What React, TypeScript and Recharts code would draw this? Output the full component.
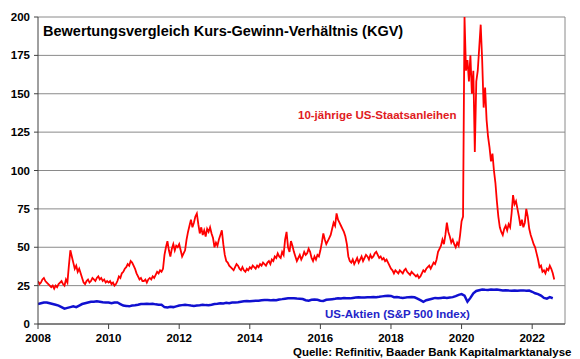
import { CartesianGrid, Line, LineChart, ReferenceLine, XAxis, YAxis } from "recharts";

// KGV 10-jährige US-Staatsanleihen, halbmonatlich ab Jan 2008
const bondKgv = [
  // 2008
  28, 26, 27, 29, 30, 28, 27, 26, 25, 24, 25, 23, 25, 24, 26, 27, 28, 26, 25, 29, 27, 38, 48, 44,
  // 2009
  40, 36, 38, 34, 36, 33, 30, 27, 26, 28, 29, 27, 28, 30, 29, 28, 30, 31, 29, 30, 28, 29, 27, 28,
  // 2010
  27, 28, 26, 27, 25, 26, 28, 31, 30, 33, 34, 36, 37, 39, 38, 41, 40, 38, 36, 33, 31, 29, 30, 28,
  // 2011
  28, 29, 27, 29, 30, 29, 31, 30, 32, 34, 33, 35, 34, 36, 45, 50, 54, 48, 44, 49, 52, 48, 51, 50,
  // 2012
  52, 48, 44, 46, 48, 55, 60, 64, 68, 63, 66, 70, 72, 65, 59, 63, 58, 61, 57, 62, 60, 63, 59, 56,
  // 2013
  50, 53, 51, 55, 58, 61, 52, 45, 41, 40, 38, 37, 36, 35, 37, 39, 38, 36, 35, 37, 35, 34, 36, 35,
  // 2014
  37, 36, 38, 37, 36, 38, 37, 39, 38, 40, 39, 38, 40, 41, 39, 42, 41, 44, 43, 46, 44, 43, 47, 45,
  // 2015
  55, 60, 50, 47, 54, 51, 47, 44, 41, 43, 45, 42, 44, 47, 45, 46, 49, 47, 43, 41, 44, 42, 45, 44,
  // 2016
  48, 53, 59, 55, 52, 54, 56, 58, 62, 66, 64, 72, 68, 66, 64, 62, 60, 57, 52, 44, 41, 40, 42, 39,
  // 2017
  41, 43, 40, 42, 44, 41, 43, 45, 44, 42, 45, 43, 44, 46, 47, 45, 43, 44, 42, 43, 41, 42, 40, 38,
  // 2018
  36, 35, 33, 35, 34, 33, 35, 34, 33, 35, 36, 34, 33, 32, 34, 33, 32, 31, 32, 30, 31, 33, 35, 34,
  // 2019
  36, 37, 38, 36, 38, 40, 39, 42, 47, 49, 51, 55, 52, 58, 66, 60, 57, 53, 55, 52, 50, 53, 51, 58,
  // 2020
  67, 70, 200, 165, 172, 158, 175, 150, 165, 112, 158, 165, 180, 195, 172, 141, 154, 133, 122, 115, 106, 111, 100, 92,
  // 2021
  80, 70, 63, 60, 58, 62, 64, 61, 65, 63, 72, 84, 78, 80, 75, 70, 64, 68, 63, 66, 75, 70, 62, 58,
  // 2022
  55, 52, 50, 46, 42, 37, 38, 34, 35, 33, 36, 35, 38, 36, 33, 29,
];

// KGV S&P 500, monatlich ab Jan 2008
const stockKgv = [
  13, 13.5, 14, 14, 13.5, 13, 12.5, 12, 11, 10, 10.5, 11,
  11.5, 11, 12, 13, 13.5, 14, 14.5, 14.5, 14.8, 14.5, 14.2, 14,
  14, 13.5, 14, 14, 13, 12, 11.8, 11.5, 12, 12.2, 12.5, 13,
  13, 13.2, 13, 13.2, 12.8, 12.5, 12.5, 11, 10.8, 11.2, 11, 11.5,
  12, 12.3, 12.5, 12.3, 12, 11.8, 12, 12.2, 12.5, 12.3, 12.2, 12.5,
  13, 13.2, 13.5, 13.4, 13.8, 13.6, 14, 14, 14.2, 14.5, 14.8, 15,
  14.8, 15, 15.2, 15.1, 15.4, 15.6, 15.6, 15.4, 15.7, 15.5, 16, 16.2,
  16.5, 16.8, 16.7, 16.8, 16.6, 16.5, 16.3, 15.5, 15.2, 15.8, 16, 15.8,
  15.2, 15, 15.8, 16, 16.2, 16.4, 16.8, 16.6, 16.9, 16.8, 16.7, 17,
  17.2, 17.4, 17.3, 17.3, 17.4, 17.5, 17.6, 17.5, 17.7, 18, 18.2, 18.4,
  18.3, 17.5, 17.6, 17.2, 17, 17.2, 17.5, 17.6, 17.4, 16.5, 15.5, 14.5,
  15.5, 16, 16.5, 17, 16.8, 17, 17.2, 17, 17.3, 17.5, 18.2, 19,
  19.5, 18.5, 14.5, 17, 20, 21.5, 22, 22.5, 22.3, 22.2, 22.5, 22.3,
  22.5, 22.2, 21.8, 22, 21.8, 21.7, 21.8, 21.6, 21.8, 21.9, 21.6, 21.8,
  21, 20, 19.5, 18.5, 17, 16.5, 17.5, 16.8,
];

const START_YEAR = 2008;
const X_MAX = 2022.93;
const xTicks = [2008, 2010, 2012, 2014, 2016, 2018, 2020, 2022];
const yTicks = [0, 25, 50, 75, 100, 125, 150, 175, 200];

const bondData = bondKgv.map((v, i) => ({ t: START_YEAR + i / 24, v }));
const stockData = stockKgv.map((v, i) => ({ t: START_YEAR + i / 12, v }));

const FONT = '"Liberation Sans", Arial, sans-serif';
const tickStyle = { fontSize: 11.5, fontWeight: 700, fill: "#000", fontFamily: FONT };

export default function App() {
  return (
    <div style={{ position: "absolute", left: 0, top: 0, width: 580, height: 359, background: "#fff" }}>
      <LineChart width={580} height={359} margin={{ top: 17, right: 15, bottom: 13, left: 0 }}>
        <CartesianGrid vertical={false} stroke="#8a8a8a" strokeWidth={1} />
        <XAxis
          type="number"
          dataKey="t"
          domain={[START_YEAR, X_MAX]}
          ticks={xTicks}
          allowDataOverflow
          height={22}
          tick={tickStyle}
          tickSize={5}
          tickMargin={5}
          stroke="#404040"
        />
        <YAxis
          domain={[0, 200]}
          ticks={yTicks}
          allowDataOverflow
          width={38}
          tick={tickStyle}
          tickSize={4}
          tickMargin={4}
          stroke="#404040"
        />
        <ReferenceLine x={X_MAX} stroke="#8a8a8a" />
        <Line
          data={stockData}
          dataKey="v"
          stroke="#1010d0"
          strokeWidth={2.5}
          dot={false}
          isAnimationActive={false}
        />
        <Line
          data={bondData}
          dataKey="v"
          stroke="#ff0000"
          strokeWidth={1.8}
          strokeLinejoin="miter"
          dot={false}
          isAnimationActive={false}
        />
      </LineChart>
      <svg
        width={580}
        height={359}
        style={{ position: "absolute", left: 0, top: 0, pointerEvents: "none" }}
        fontFamily={FONT}
        fontWeight={700}
      >
        <text x={43} y={35.5} fontSize={14.5} fill="#000">
          Bewertungsvergleich Kurs-Gewinn-Verhältnis (KGV)
        </text>
        <text x={298} y={119} fontSize={11.5} fill="#e01b22">
          10-jährige US-Staatsanleihen
        </text>
        <text x={325} y={318} fontSize={11.5} fill="#2323c8">
          US-Aktien (S&amp;P 500 Index)
        </text>
        <text x={293} y={355.5} fontSize={11.5} fill="#000">
          Quelle: Refinitiv, Baader Bank Kapitalmarktanalyse
        </text>
      </svg>
    </div>
  );
}
